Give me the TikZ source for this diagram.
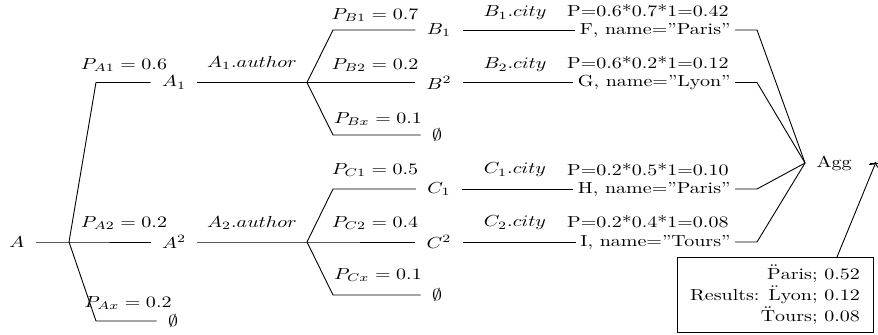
\documentclass[tikz,border=0pt]{standalone}
\usetikzlibrary{arrows.meta}
\newcommand{\umlP}[1]{$\ddot{\mathrm{#1}}$}
\begin{document}
\begin{tikzpicture}[x=0.5pt,y=-0.5pt,line width=0.45pt,
  every node/.append style={yscale=0.8},
  nd/.style={inner sep=5.5pt},
  lbl/.style={inner sep=0pt},
  leaf/.style={inner sep=2pt,anchor=east},
  plab/.style={inner sep=0pt,anchor=east},
  conn/.style={draw=black}]
\useasboundingbox (0,0) rectangle (878,335);
% level A
\node[nd] (A) at (17,242) {$A$};
\coordinate (fA) at (69,242);
\coordinate (kA1) at (96,82.5);
\coordinate (kAx) at (96,321);
\node[nd] (A1) at (174,82.5) {$A_1$};
\node[nd] (A2) at (174,242) {$A^2$};
\node[nd] (Ae) at (173,321) {$\emptyset$};
\node[lbl] (pA1) at (124,65) {$P_{A1} = 0.6$};
\node[lbl] (pA2) at (124,223) {$P_{A2} = 0.2$};
\node[lbl] (pAx) at (128,303) {$P_{Ax} = 0.2$};
\node[lbl] (aA1) at (252,63) {$A_1.author$};
\node[lbl] (aA2) at (252,223) {$A_2.author$};
\draw[conn] (A.east) -- (fA) -- (A2.west);
\draw[conn] (fA) -- (kA1) -- (A1.west);
\draw[conn] (fA) -- (kAx) -- (Ae.west);
% level B
\coordinate (fB) at (307,82.5);
\coordinate (kB1) at (333,30);
\coordinate (kBx) at (333,135);
\node[nd] (B1) at (439,30) {$B_1$};
\node[nd] (B2) at (439,82.5) {$B^2$};
\node[nd] (Be) at (437,135) {$\emptyset$};
\node[lbl] (pB1) at (375,15) {$P_{B1} = 0.7$};
\node[lbl] (pB2) at (375,65) {$P_{B2} = 0.2$};
\node[lbl] (pBx) at (378,119) {$P_{Bx} = 0.1$};
\draw[conn] (A1.east) -- (fB) -- (B2.west);
\draw[conn] (fB) -- (kB1) -- (B1.west);
\draw[conn] (fB) -- (kBx) -- (Be.west);
% level C
\coordinate (fC) at (307,242);
\coordinate (kC1) at (333,189);
\coordinate (kCx) at (333,295);
\node[nd] (C1) at (439,189) {$C_1$};
\node[nd] (C2) at (439,242) {$C^2$};
\node[nd] (Ce) at (437,295) {$\emptyset$};
\node[lbl] (pC1) at (375,170) {$P_{C1} = 0.5$};
\node[lbl] (pC2) at (375,223) {$P_{C2} = 0.4$};
\node[lbl] (pCx) at (378,275) {$P_{Cx} = 0.1$};
\draw[conn] (A2.east) -- (fC) -- (C2.west);
\draw[conn] (fC) -- (kC1) -- (C1.west);
\draw[conn] (fC) -- (kCx) -- (Ce.west);
% cities
\node[lbl] (cB1) at (515,13) {$B_1.city$};
\node[lbl] (cB2) at (515,65) {$B_2.city$};
\node[lbl] (cC1) at (515,170) {$C_1.city$};
\node[lbl] (cC2) at (515,223) {$C_2.city$};
\node[leaf] (F) at (735,30) {F, name=''Paris''};
\node[leaf] (G) at (735,82.5) {G, name=''Lyon''};
\node[leaf] (H) at (735,189) {H, name=''Paris''};
\node[leaf] (I) at (735,242) {I, name=''Tours''};
\node[plab] (PF) at (729,11) {P=0.6*0.7*1=0.42};
\node[plab] (PG) at (729,63) {P=0.6*0.2*1=0.12};
\node[plab] (PH) at (729,170) {P=0.2*0.5*1=0.10};
\node[plab] (PI) at (729,222) {P=0.2*0.4*1=0.08};
\draw[conn] (B1.east) -- (F.west);
\draw[conn] (B2.east) -- (G.west);
\draw[conn] (C1.east) -- (H.west);
\draw[conn] (C2.east) -- (I.west);
% aggregation
\node[nd] (Agg) at (834,163) {Agg};
\coordinate (jF) at (757,30);
\coordinate (jG) at (757,82.5);
\coordinate (jH) at (757,189);
\coordinate (jI) at (757,242);
\draw[conn] (F.east) -- (jF) -- (Agg.west);
\draw[conn] (G.east) -- (jG) -- (Agg.west);
\draw[conn] (H.east) -- (jH) -- (Agg.west);
\draw[conn] (I.east) -- (jI) -- (Agg.west);
\coordinate (aggR) at (878,163);
\draw[conn] ([xshift=3.5pt]Agg.east) -- (aggR);
% results
\node[draw,minimum width=98pt,minimum height=46.9pt,align=right,
  font=\fontsize{10}{13}\selectfont] (res) at (775,294.5)
  {\umlP{P}aris; 0.52\\Results: \umlP{L}yon; 0.12\\\umlP{T}ours; 0.08};
\coordinate (rs) at (837,257);
\coordinate (aggT) at (876,162);
\draw[conn,->] (rs) -- (aggT);
\end{tikzpicture}
\end{document}
